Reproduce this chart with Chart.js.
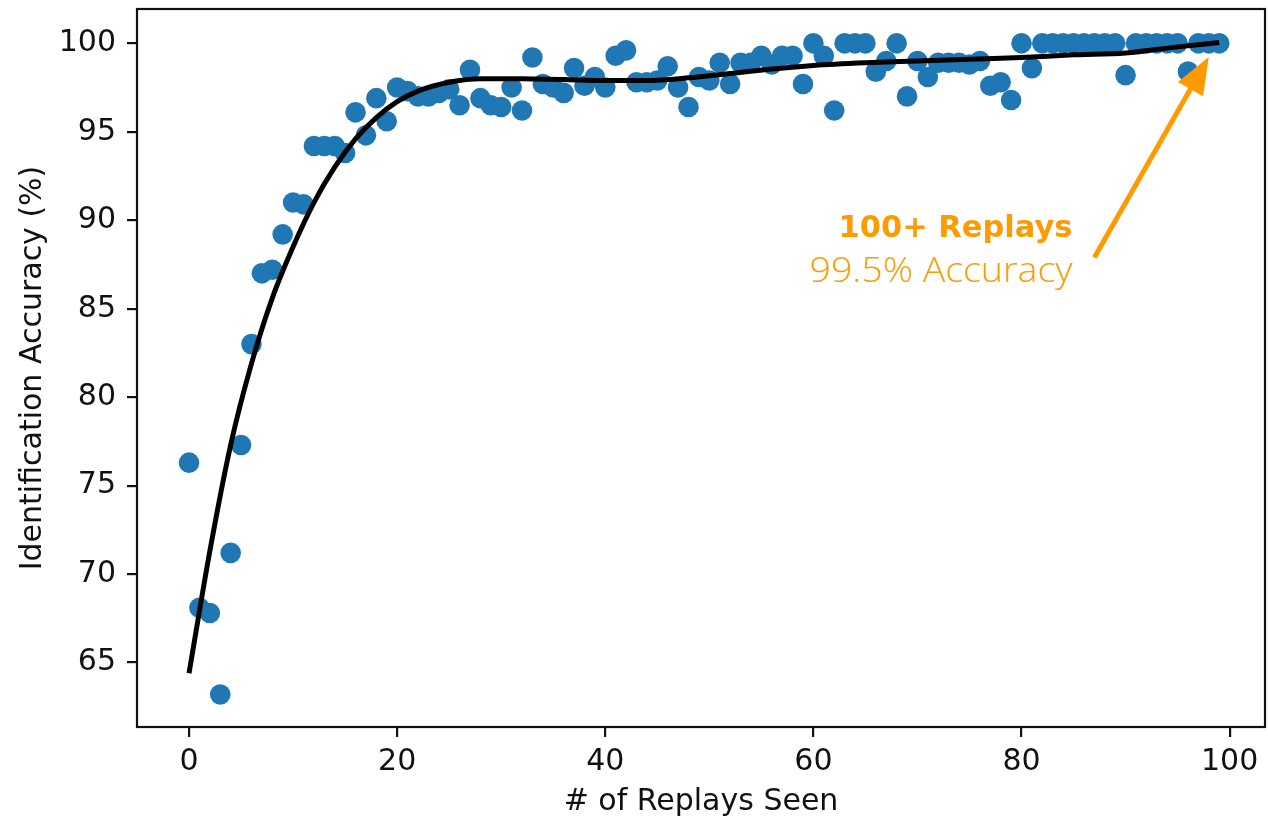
<!DOCTYPE html>
<html>
<head>
<meta charset="utf-8">
<script src="https://cdn.jsdelivr.net/npm/chart.js@4.4.1/dist/chart.umd.min.js"></script>
<style>
  html, body { margin: 0; padding: 0; background: #fff; }
  canvas { display: block; }
</style>
</head>
<body>
<canvas id="c" width="1268" height="821"></canvas>
<script>
// Replay count (x) and identification accuracy per replay count (y)
const replays = Array.from({ length: 100 }, (_, i) => i);
const accuracy = [
  76.3, 68.1, 67.8, 63.2, 71.2, 77.3, 83.0, 87.0, 87.2, 89.2,
  91.0, 90.9, 94.2, 94.2, 94.2, 93.8, 96.1, 94.8, 96.9, 95.6,
  97.5, 97.3, 97.0, 97.0, 97.2, 97.4, 96.5, 98.5, 96.9, 96.5,
  96.4, 97.5, 96.2, 99.2, 97.7, 97.5, 97.2, 98.6, 97.6, 98.1,
  97.5, 99.3, 99.6, 97.8, 97.8, 97.9, 98.7, 97.5, 96.4, 98.1,
  97.9, 98.9, 97.7, 98.9, 98.9, 99.3, 98.8, 99.3, 99.3, 97.7,
  100.0, 99.3, 96.2, 100.0, 100.0, 100.0, 98.4, 99.0, 100.0, 97.0,
  99.0, 98.1, 98.9, 98.9, 98.9, 98.8, 99.0, 97.6, 97.8, 96.8,
  100.0, 98.6, 100.0, 100.0, 100.0, 100.0, 100.0, 100.0, 100.0, 100.0,
  98.2, 100.0, 100.0, 100.0, 100.0, 100.0, 98.4, 100.0, 100.0, 100.0
];

// Fitted trend curve
const fitX = [0, 2, 4, 6, 8, 10, 12, 14, 16, 18, 20, 22, 25, 28, 32, 36, 40, 44, 48, 52, 56, 60, 65, 70, 75, 80, 85, 90, 95, 99];
const fitY = [64.4, 71.3, 77.3, 81.9, 85.6, 88.5, 91.0, 93.0, 94.6, 95.8, 96.7, 97.3, 97.8, 98.0, 98.0, 97.95, 97.9, 97.9, 98.05, 98.3, 98.55, 98.75, 98.9, 99.0, 99.1, 99.2, 99.35, 99.45, 99.8, 100.05];

const xTicks = [0, 20, 40, 60, 80, 100];
const yTicks = [65, 70, 75, 80, 85, 90, 95, 100];

// Callout: text anchor (right edge, two baselines) and arrow in data units
const calloutTitle = '100+ Replays';
const calloutSub = '99.5% Accuracy';
const calloutX = 84.9;
const calloutTitleY = 89.06;
const calloutSubY = 86.52;
const arrowFrom = [87.0, 87.9];
const arrowTo = [98.0, 99.23];

const ORANGE = '#FF9A00';
const BLUE = '#1f77b4';

Chart.defaults.font.family = '"DejaVu Sans", sans-serif';
Chart.defaults.color = '#111';

// Box around the plot area (all four spines)
const framePlugin = {
  id: 'frame',
  afterDraw(chart) {
    const { ctx, chartArea: a } = chart;
    ctx.save();
    ctx.strokeStyle = '#111';
    ctx.lineWidth = 2.2;
    ctx.strokeRect(a.left, a.top, a.right - a.left, a.bottom - a.top);
    ctx.restore();
  }
};

// Draws one line of text, right-aligned, stretched horizontally to a given width
function fittedText(ctx, text, xRight, yBase, width) {
  const w = ctx.measureText(text).width;
  const k = width / w;
  ctx.save();
  ctx.translate(xRight, yBase);
  ctx.scale(k, 1);
  ctx.textAlign = 'right';
  ctx.fillText(text, 0, 0);
  ctx.restore();
}

const calloutPlugin = {
  id: 'callout',
  afterDatasetsDraw(chart) {
    const { ctx, scales: { x, y } } = chart;
    ctx.save();
    ctx.fillStyle = ORANGE;
    ctx.textAlign = 'right';
    ctx.textBaseline = 'alphabetic';
    const tx = x.getPixelForValue(calloutX);
    ctx.font = 'bold 30px "DejaVu Sans", sans-serif';
    fittedText(ctx, calloutTitle, tx, y.getPixelForValue(calloutTitleY), 234);
    ctx.font = '300 34px "Open Sans", "Noto Sans", sans-serif';
    fittedText(ctx, calloutSub, tx, y.getPixelForValue(calloutSubY), 263);

    // arrow
    const x0 = x.getPixelForValue(arrowFrom[0]), y0 = y.getPixelForValue(arrowFrom[1]);
    const x1 = x.getPixelForValue(arrowTo[0]), y1 = y.getPixelForValue(arrowTo[1]);
    const dx = x1 - x0, dy = y1 - y0, len = Math.hypot(dx, dy);
    const ux = dx / len, uy = dy / len;
    const headLen = 37, headHalf = 14.5;
    const bx = x1 - ux * headLen, by = y1 - uy * headLen;
    ctx.strokeStyle = ORANGE;
    ctx.lineWidth = 5;
    ctx.beginPath();
    ctx.moveTo(x0, y0);
    ctx.lineTo(bx + ux * 2, by + uy * 2);
    ctx.stroke();
    ctx.beginPath();
    ctx.moveTo(x1, y1);
    ctx.lineTo(bx - uy * headHalf, by + ux * headHalf);
    ctx.lineTo(bx + uy * headHalf, by - ux * headHalf);
    ctx.closePath();
    ctx.fill();
    ctx.restore();
  }
};

new Chart(document.getElementById('c'), {
  type: 'scatter',
  data: {
    datasets: [
      {
        label: 'Fit',
        data: fitX.map((v, i) => ({ x: v, y: fitY[i] })),
        showLine: true,
        borderColor: '#000',
        borderWidth: 5,
        pointRadius: 0,
        cubicInterpolationMode: 'monotone',
        order: 0
      },
      {
        label: 'Accuracy',
        data: replays.map((v, i) => ({ x: v, y: accuracy[i] })),
        backgroundColor: BLUE,
        borderWidth: 0,
        pointRadius: 10.3,
        order: 1
      }
    ]
  },
  options: {
    responsive: false,
    animation: false,
    events: [],
    layout: { autoPadding: false, padding: { top: 9, right: 3, left: 0, bottom: 0 } },
    plugins: { legend: { display: false }, tooltip: { enabled: false } },
    scales: {
      x: {
        type: 'linear',
        min: -5.0,
        max: 103.4,
        afterBuildTicks(s) { s.ticks = xTicks.map(v => ({ value: v })); },
        afterFit(s) { s.height = 94; s.paddingLeft = 0; s.paddingRight = 0; },
        border: { display: false },
        grid: { drawOnChartArea: false, drawTicks: true, tickLength: 10, lineWidth: 2.2, color: '#111' },
        ticks: { font: { size: 30 }, padding: 7, color: '#111', maxRotation: 0 },
        title: { display: true, text: '# of Replays Seen', font: { size: 30 }, color: '#111', padding: { top: 0, bottom: 1 } }
      },
      y: {
        type: 'linear',
        min: 61.36,
        max: 101.94,
        afterBuildTicks(s) { s.ticks = yTicks.map(v => ({ value: v })); },
        afterFit(s) { s.width = 137; s.paddingTop = 0; s.paddingBottom = 0; },
        border: { display: false },
        grid: { drawOnChartArea: false, drawTicks: true, tickLength: 10, lineWidth: 2.2, color: '#111' },
        ticks: { font: { size: 30 }, padding: 11, color: '#111' },
        title: { display: true, text: 'Identification Accuracy (%)', font: { size: 30 }, color: '#111', padding: { top: 15, bottom: 0 } }
      }
    }
  },
  plugins: [framePlugin, calloutPlugin]
});
</script>
</body>
</html>
